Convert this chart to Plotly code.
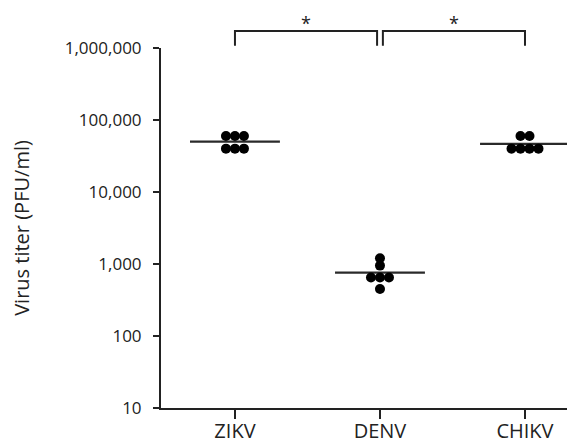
import plotly.graph_objects as go
import numpy as np

# ---- data ----
categories = ["ZIKV", "DENV", "CHIKV"]
zikv_titer = [60000, 60000, 60000, 40000, 40000, 40000]
denv_titer = [1200, 950, 650, 650, 650, 450]
chikv_titer = [60000, 60000, 40000, 40000, 40000, 40000]
series = [zikv_titer, denv_titer, chikv_titer]

y_tickvals = [10, 100, 1000, 10000, 100000, 1000000]
y_ticktext = ["10", "100", "1,000", "10,000", "100,000", "1,000,000"]

comparisons = [("ZIKV", "DENV", "*"), ("DENV", "CHIKV", "*")]

# ---- style ----
FONT = "Open Sans"
TXT = "#222222"
dot_spread = 0.062   # horizontal spacing of tied points (x units)
mean_half = 0.31     # half-width of mean line (x units)

fig = go.Figure()

for i, (cat, vals) in enumerate(zip(categories, series)):
    mean = float(np.mean(vals))
    fig.add_trace(go.Scatter(
        x=[i - mean_half, i + mean_half], y=[mean, mean], mode="lines",
        line=dict(color="#2a2a2a", width=2.2), showlegend=False, hoverinfo="skip"))
    # spread tied values horizontally (dot-plot style)
    xs, ys = [], []
    uniq = []
    for v in vals:
        if v not in uniq:
            uniq.append(v)
    for u in uniq:
        k = vals.count(u)
        for j in range(k):
            xs.append(i + (j - (k - 1) / 2) * dot_spread)
            ys.append(u)
    fig.add_trace(go.Scatter(
        x=xs, y=ys, mode="markers", name=cat,
        marker=dict(color="black", size=10, line=dict(width=0)),
        showlegend=False))

# significance brackets
y_top, y_leg = 1.047, 1.006
gap = 0.02
shapes = []
annotations = []
for a, b, label in comparisons:
    ia, ib = categories.index(a), categories.index(b)
    x0 = ia + (gap if ia == 1 else 0)
    x1 = ib - (gap if ib == 1 else 0)
    path = f"M {x0},{y_leg} L {x0},{y_top} L {x1},{y_top} L {x1},{y_leg}"
    shapes.append(dict(type="path", xref="x", yref="paper", path=path,
                       line=dict(color="#222222", width=2)))
    annotations.append(dict(x=(x0 + x1) / 2, y=1.107, xref="x", yref="paper",
                            text=label, showarrow=False, yanchor="top",
                            font=dict(family=FONT, size=18, color=TXT)))

fig.update_layout(
    width=575, height=443,
    margin=dict(l=153, r=0, t=40, b=43),
    paper_bgcolor="white", plot_bgcolor="white",
    shapes=shapes, annotations=annotations,
    font=dict(family=FONT, color=TXT),
    xaxis=dict(
        range=[-0.51, 2.40], tickmode="array", automargin=False,
        tickvals=list(range(len(categories))), ticktext=categories,
        showgrid=False, zeroline=False, showline=True, linecolor="#222222",
        linewidth=2, ticks="outside", ticklen=9, tickwidth=1.5, tickcolor="#222222",
        ticklabelstandoff=-5,
        tickfont=dict(family=FONT, size=20, color=TXT)),
    yaxis=dict(
        type="log", range=[1, 6], tickmode="array", automargin=False,
        tickvals=y_tickvals, ticktext=y_ticktext,
        showgrid=False, zeroline=False, showline=True, linecolor="#222222",
        linewidth=2, ticks="outside", ticklen=6, tickwidth=1.5, tickcolor="#222222",
        ticklabelstandoff=8,
        tickfont=dict(family=FONT, size=17, color=TXT),
        title=dict(text="Virus titer (PFU/ml)", standoff=31,
                   font=dict(family=FONT, size=20, color=TXT))),
)

fig.write_html("out.html")
